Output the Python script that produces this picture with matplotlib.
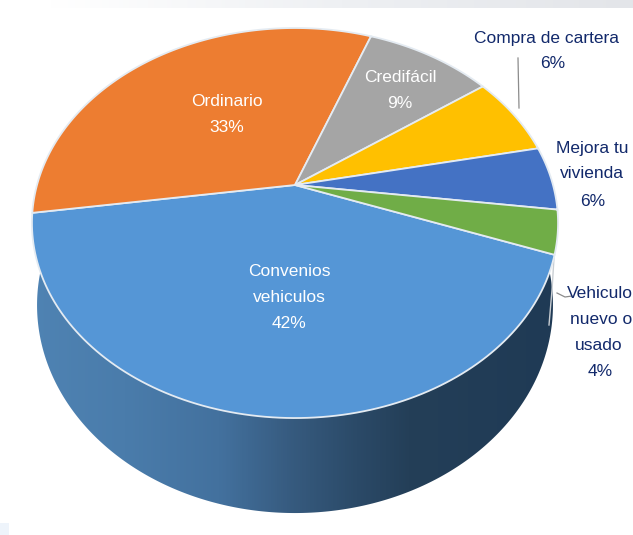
#! /usr/bin/env python3

import matplotlib.pyplot as plt
import numpy as np
from matplotlib.colors import LinearSegmentedColormap
from matplotlib.patches import Polygon

plt.rcParams['font.family'] = ['Liberation Sans Narrow', 'Liberation Sans', 'DejaVu Sans']

# shares, clockwise from the right edge of Convenios
categories = ['Convenios\nvehiculos', 'Ordinario', 'Credifácil',
              'Compra de cartera', 'Mejora tu\nvivienda', 'Vehiculo\nnuevo o\nusado']
shares = [42.1, 33.0, 9.4, 6.7, 5.3, 3.6]
percent_labels = ['42%', '33%', '9%', '6%', '6%', '4%']
colors = ['#5596d6', '#ed7d31', '#a5a5a5', '#ffc000', '#4472c4', '#70ad47']
text_colors = ['white', 'white', 'white', '#12296b', '#12296b', '#12296b']

start_angle = -20.3
tilt = 0.195


def project(t, x0, y0, rx, ry):
    # circle seen in perspective, t in radians, counter clockwise
    w = 1 + tilt * np.sin(t)
    return np.column_stack([x0 + rx * np.cos(t) / w, y0 - ry * np.sin(t) / w])


top = dict(x0=295, y0=185, rx=258, ry=187.6)
bottom = dict(x0=295, y0=264.6, rx=253, ry=200)

fig = plt.figure(figsize=(6.33, 5.35), dpi=100)
ax = fig.add_axes([0, 0, 1, 1])
ax.set_xlim(0, 633)
ax.set_ylim(535, 0)
ax.axis('off')

# grey band on top of the slide
band = LinearSegmentedColormap.from_list('band', ['#ffffff', '#eef0f3', '#e3e5e9'])
ax.imshow(np.linspace(0, 1, 256)[None, :], cmap=band, extent=[50, 633, 8, 0], aspect='auto', zorder=1)
ax.add_patch(Polygon([[0, 523], [9, 523], [9, 535], [0, 535]], color='#eef4fb', lw=0, zorder=1))

# side wall with a horizontal gradient
t_low = np.radians(np.linspace(-186, 6, 300))
left_edge = project(np.radians(np.array([-188.0])), **top)
right_edge = project(np.radians(np.array([-20.3])), **top)
wall = Polygon(np.vstack([left_edge, project(t_low, **bottom), right_edge]),
               closed=True, facecolor='none', edgecolor='none', zorder=2)
ax.add_patch(wall)
wall_cmap = LinearSegmentedColormap.from_list('wall', [
    (0.0, '#4f83b3'), (0.18, '#4a7cab'), (0.36, '#43719e'), (0.5, '#365a7e'),
    (0.62, '#2b4a68'), (0.72, '#243f58'), (1.0, '#1f3a55')])
grad = ax.imshow(np.linspace(0, 1, 512)[None, :], cmap=wall_cmap,
                 extent=[30, 557, 520, 200], aspect='auto', zorder=2)
grad.set_clip_path(wall)
ax.set_xlim(0, 633)
ax.set_ylim(535, 0)

# top face
edges = start_angle - np.cumsum([0] + shares) / sum(shares) * 360
for i in range(len(shares)):
    t = np.radians(np.linspace(edges[i], edges[i + 1], 120))
    apex = [[top['x0'], top['y0']]]
    ax.add_patch(Polygon(np.vstack([apex, project(t, **top)]), closed=True,
                         facecolor=colors[i], edgecolor='#e4ebf2', lw=1.3, zorder=3))

# leader lines
ax.plot([518, 519], [58, 108], color='#8c8c8c', lw=0.9, zorder=4)
ax.plot([557, 565, 572], [293, 297, 296], color='#8c8c8c', lw=0.9, zorder=4)
ax.plot([554, 552, 549], [258, 290, 325], color='#c9ced3', lw=1.0, zorder=2)

# labels, one line at a time
label_lines = [
    ([289, 289, 289], [271, 297, 323]),
    ([227, 227], [102, 127]),
    ([400, 400], [78, 103]),
    ([547, 553], [38, 64]),
    ([592, 592, 593], [148, 174, 201]),
    ([600, 601, 599, 600], [293, 320, 346, 372]),
]
for i, (xs, ys) in enumerate(label_lines):
    lines = categories[i].split('\n') + [percent_labels[i]]
    for line, x, y in zip(lines, xs, ys):
        ax.text(x, y, line, ha='center', va='center', fontsize=12.5,
                color=text_colors[i], zorder=5)

fig.savefig('out.png', dpi=100)
